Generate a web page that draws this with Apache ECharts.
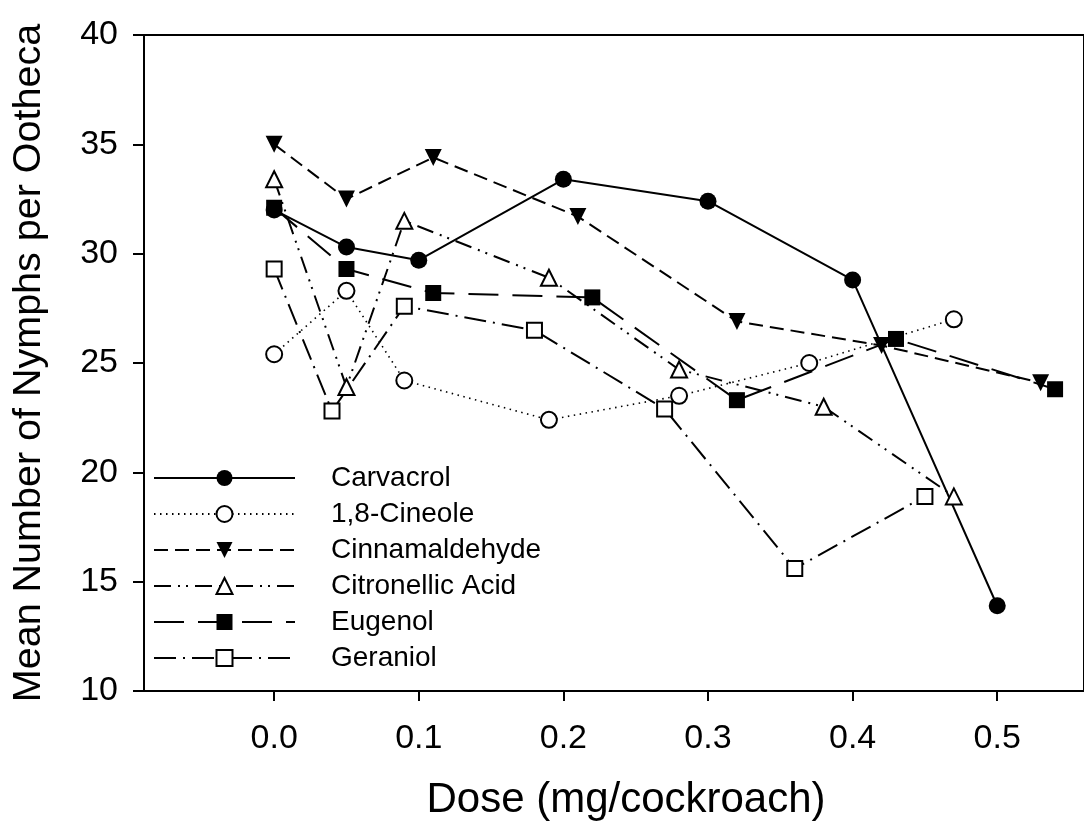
<!DOCTYPE html>
<html>
<head>
<meta charset="utf-8">
<title>Mean Number of Nymphs per Ootheca</title>
<script src="https://cdn.jsdelivr.net/npm/echarts@6/dist/echarts.min.js"></script>
<style>
  html, body { margin: 0; padding: 0; background: #ffffff; }
  #chart { width: 1084px; height: 835px; }
</style>
</head>
<body>
<div id="chart"></div>
<script>
// Dose (mg/cockroach) and mean nymph counts for each compound
const carvacrolDose = [0, 0.05, 0.1, 0.2, 0.3, 0.4, 0.5];
const carvacrolMean = [32.0, 30.3, 29.7, 33.4, 32.4, 28.8, 13.9];

const cineoleDose = [0, 0.05, 0.09, 0.19, 0.28, 0.37, 0.47];
const cineoleMean = [25.4, 28.3, 24.2, 22.4, 23.5, 25.0, 27.0];

const cinnamaldehydeDose = [0, 0.05, 0.11, 0.21, 0.32, 0.42, 0.53];
const cinnamaldehydeMean = [35.0, 32.5, 34.4, 31.7, 26.9, 25.8, 24.1];

const citronellicDose = [0, 0.05, 0.09, 0.19, 0.28, 0.38, 0.47];
const citronellicMean = [33.4, 23.9, 31.5, 28.9, 24.7, 23.0, 18.9];

const eugenolDose = [0, 0.05, 0.11, 0.22, 0.32, 0.43, 0.54];
const eugenolMean = [32.1, 29.3, 28.2, 28.0, 23.3, 26.1, 23.8];

const geraniolDose = [0, 0.04, 0.09, 0.18, 0.27, 0.36, 0.45];
const geraniolMean = [29.3, 22.8, 27.6, 26.5, 22.9, 15.6, 18.9];

const xTicks = [0, 0.1, 0.2, 0.3, 0.4, 0.5];

const FONT = 'Liberation Sans, Arial, Helvetica, sans-serif';

function pairs(xs, ys) {
  return xs.map((x, i) => [x, ys[i]]);
}

function makeSeries(name, xs, ys, opts) {
  return {
    name: name,
    type: 'line',
    data: pairs(xs, ys),
    symbol: opts.symbol,
    symbolSize: opts.size || 16,
    symbolRotate: opts.rotate || 0,
    showSymbol: true,
    animation: false,
    lineStyle: { color: '#000', width: opts.width || 2, type: opts.dash },
    itemStyle: {
      color: opts.filled ? '#000' : '#fff',
      borderColor: '#000',
      borderWidth: opts.filled ? 0 : 2
    },
    emphasis: { disabled: true },
    z: opts.z || 2
  };
}

// Line patterns: solid, dotted, short dash, dash-dot-dot, long dash, dash-dot
const series = [
  makeSeries('Carvacrol', carvacrolDose, carvacrolMean,
    { symbol: 'circle', filled: true, dash: 'solid', size: 17 }),
  makeSeries('1,8-Cineole', cineoleDose, cineoleMean,
    { symbol: 'circle', filled: false, dash: [1.5, 4.5], width: 1.6, size: 16 }),
  makeSeries('Cinnamaldehyde', cinnamaldehydeDose, cinnamaldehydeMean,
    { symbol: 'triangle', rotate: 180, filled: true, dash: [14, 7], size: 17 }),
  makeSeries('Citronellic Acid', citronellicDose, citronellicMean,
    { symbol: 'triangle', filled: false, dash: [17, 7, 2, 6, 2, 7], size: 16 }),
  makeSeries('Eugenol', eugenolDose, eugenolMean,
    { symbol: 'rect', filled: true, dash: [30, 14], size: 16 }),
  makeSeries('Geraniol', geraniolDose, geraniolMean,
    { symbol: 'rect', filled: false, dash: [22, 7, 2, 7], size: 15 })
];

const chart = echarts.init(document.getElementById('chart'), null, { renderer: 'canvas' });

chart.setOption({
  backgroundColor: '#ffffff',
  animation: false,
  textStyle: { fontFamily: FONT, color: '#000' },
  grid: {
    left: 144,
    top: 35,
    width: 952,
    height: 656,
    show: true,
    borderColor: '#000',
    borderWidth: 2,
    backgroundColor: 'transparent'
  },
  legend: {
    orient: 'vertical',
    left: 153,
    top: 460,
    padding: 0,
    itemWidth: 141,
    itemHeight: 20,
    itemGap: 0,
    selectedMode: false,
    textStyle: {
      fontFamily: FONT,
      fontSize: 28,
      color: '#000',
      lineHeight: 36,
      padding: [0, 0, 0, 31]
    },
    data: series.map(s => s.name)
  },
  xAxis: {
    type: 'value',
    min: -0.09,
    max: 0.56,
    name: 'Dose (mg/cockroach)',
    nameLocation: 'middle',
    nameGap: 88,
    nameTextStyle: {
      fontFamily: FONT,
      fontSize: 42,
      color: '#000',
      padding: [0, 0, 0, 24]
    },
    splitLine: { show: false },
    axisLine: { show: true, onZero: false, lineStyle: { color: '#000', width: 2 } },
    axisTick: {
      show: true,
      inside: false,
      length: 10,
      customValues: xTicks,
      lineStyle: { color: '#000', width: 2 }
    },
    axisLabel: {
      customValues: xTicks,
      margin: 31,
      fontFamily: FONT,
      fontSize: 34,
      color: '#000',
      formatter: v => v.toFixed(1)
    }
  },
  yAxis: {
    type: 'value',
    min: 10,
    max: 40,
    interval: 5,
    name: 'Mean Number of Nymphs per Ootheca',
    nameLocation: 'middle',
    nameRotate: 90,
    nameGap: 95,
    nameTextStyle: { fontFamily: FONT, fontSize: 39.5, color: '#000' },
    splitLine: { show: false },
    axisLine: { show: true, onZero: false, lineStyle: { color: '#000', width: 2 } },
    axisTick: { show: true, inside: false, length: 11, lineStyle: { color: '#000', width: 2 } },
    axisLabel: {
      margin: 26,
      fontFamily: FONT,
      fontSize: 34,
      color: '#000'
    }
  },
  series: series
});
</script>
</body>
</html>
